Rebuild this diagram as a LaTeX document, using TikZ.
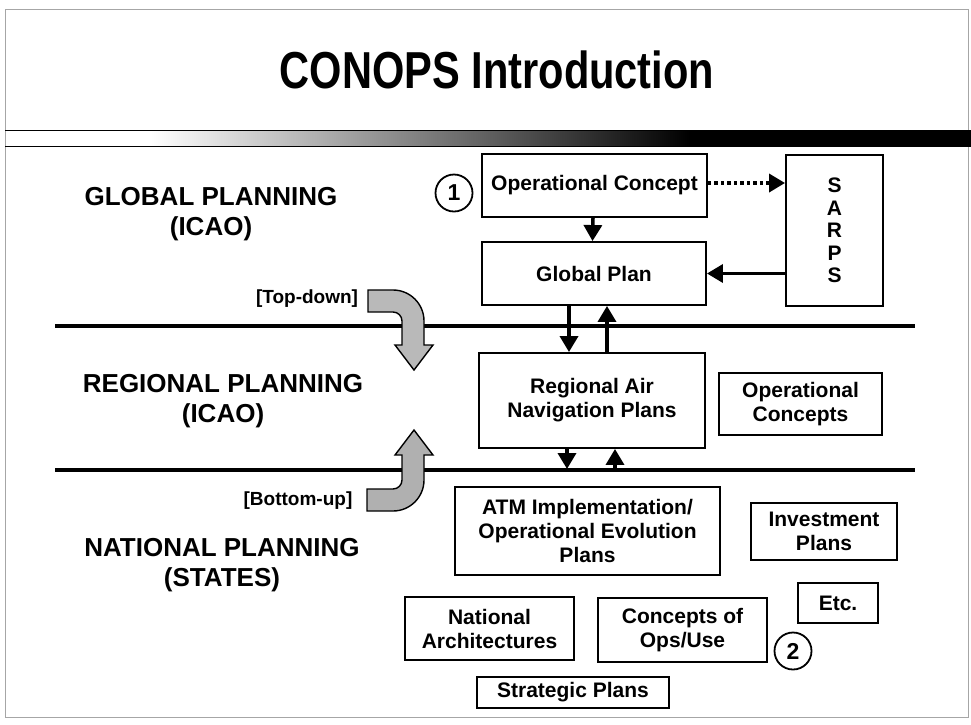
\documentclass[tikz,border=0pt]{standalone}
\usepackage{fontspec}
\setmainfont{Liberation Sans}
\newfontfamily\titlefont[FakeStretch=0.8]{Liberation Sans}
\usetikzlibrary{arrows.meta,calc}
\tikzset{
  box/.style={draw, line width=1.9pt, align=center, inner sep=0pt,
    font=\bfseries\fontsize{21}{24}\selectfont},
  lbl/.style={align=center, font=\bfseries\fontsize{26}{30}\selectfont},
  sublbl/.style={align=center, font=\bfseries\fontsize{19}{22}\selectfont},
  numcirc/.style={draw, circle, line width=1.8pt, minimum size=37pt, inner sep=0pt,
    font=\bfseries\fontsize{23}{26}\selectfont},
  arr/.style={line width=3.5pt, -{Triangle[width=18pt,length=16pt]}},
  dotarr/.style={line width=3.5pt, dash pattern=on 3.5pt off 3pt, -{Triangle[width=18pt,length=16pt]}},
  sepline/.style={line width=3.2pt},
  bendarrow/.style={draw=black, line width=1.4pt, line join=miter}
}
\begin{document}
\begin{tikzpicture}[x=1pt,y=-1pt]
\useasboundingbox (0,0) rectangle (971,724);
% slide frame
\draw[gray!70, line width=0.8pt] (5,9) rectangle (968,717);
% title
\node[font=\titlefont\bfseries\fontsize{52}{60}\selectfont] (title) at (497,70) {CONOPS Introduction};
% header bar
\shade[left color=white, right color=black] (150,131) rectangle (690,146);
\fill[black] (690,131) rectangle (971,146);
\draw[line width=0.8pt] (5,130.5) -- (971,130.5);
\draw[line width=0.8pt] (5,146.5) -- (971,146.5);
% separators
\draw[sepline] (55,326) -- (915,326);
\draw[sepline] (55,470) -- (915,470);
% left labels
\node[lbl] (glob) at (211,214) {GLOBAL PLANNING\\(ICAO)};
\node[lbl] (reg) at (223,401) {REGIONAL PLANNING\\(ICAO)};
\node[lbl] (nat) at (222,565) {NATIONAL PLANNING\\(STATES)};
\node[sublbl] (td) at (307,299) {[Top-down]};
\node[sublbl] (bu) at (298,501) {[Bottom-up]};
% bend arrows
\filldraw[bendarrow, fill=gray!55] (368,290) -- (393,290) .. controls (410.1,290) and (424,303.9) .. (424,321)
  -- (424,345) -- (433,345) -- (414,370) -- (395,345) -- (402,345) -- (402,321)
  .. controls (402,316) and (398,312) .. (393,312) -- (368,312) -- cycle;
\filldraw[bendarrow, fill=gray!62] (414,430) -- (433,455) -- (424,455) -- (424,480)
  .. controls (424,497.1) and (410.1,511) .. (393,511) -- (367,511) -- (367,489) -- (393,489)
  .. controls (398,489) and (402,485) .. (402,480) -- (402,455) -- (395,455) -- cycle;
% boxes
\node[box, minimum width=225pt, minimum height=63pt] (opc) at (594.5,185.5) {Operational Concept};
\node[box, minimum width=97pt, minimum height=151pt, font=\bfseries\fontsize{21}{22.5}\selectfont] (sarps) at (834.5,230.5) {S\\A\\R\\P\\S};
\node[box, minimum width=224pt, minimum height=63pt] (gp) at (594,273.5) {Global Plan};
\node[box, minimum width=226pt, minimum height=95pt] (rap) at (592,400.5) {Regional Air\\Navigation Plans};
\node[box, minimum width=163pt, minimum height=62pt] (opcs) at (800.5,404) {Operational\\Concepts};
\node[box, minimum width=265pt, minimum height=88pt] (atm) at (587.5,531) {ATM Implementation/\\Operational Evolution\\Plans};
\node[box, minimum width=146pt, minimum height=57pt] (inv) at (824,531.5) {Investment\\Plans};
\node[box, minimum width=80pt, minimum height=40pt] (etc) at (838,603) {Etc.};
\node[box, minimum width=169pt, minimum height=63pt] (natarch) at (489.5,628.5) {National\\Architectures};
\node[box, minimum width=169pt, minimum height=64pt] (conops) at (682.5,630) {Concepts of\\Ops/Use};
\node[box, minimum width=192pt, minimum height=31pt] (strat) at (573,692.5) {Strategic Plans};
\node[numcirc] (c1) at (454,193) {1};
\node[numcirc] (c2) at (793,651) {2};
% connectors
\draw[arr] ([xshift=-1.5pt]opc.south) -- ([xshift=-1.5pt]gp.north);
\draw[dotarr] ([yshift=2.5pt]opc.east) -- ([yshift=2.5pt]opc.east -| sarps.west);
\draw[arr] (gp.east -| sarps.west) -- (gp.east);
\draw[arr] ([xshift=-25pt]gp.south) -- ([xshift=-25pt]gp.south |- rap.north);
\draw[arr] ([xshift=15pt]rap.north) -- ([xshift=15pt]rap.north |- gp.south);
\coordinate (l2a) at (567,469);
\coordinate (l2b) at (615,469);
\draw[arr] (rap.south -| l2a) -- (l2a);
\draw[arr] (l2b) -- (rap.south -| l2b);
\end{tikzpicture}
\end{document}
